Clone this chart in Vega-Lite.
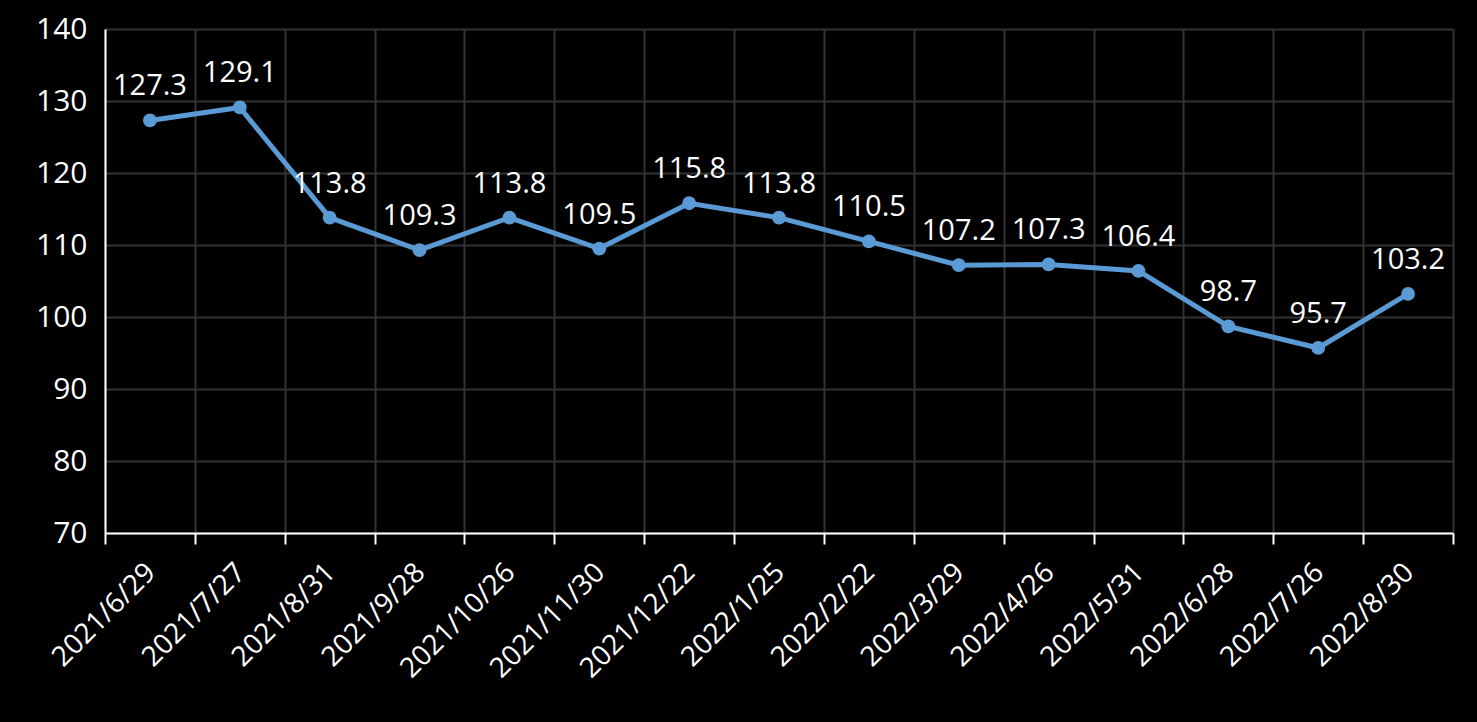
{
  "$schema": "https://vega.github.io/schema/vega-lite/v6.json",
  "width": 1348,
  "height": 504,
  "autosize": {"type": "none"},
  "padding": {"left": 105, "top": 29, "right": 24, "bottom": 189},
  "background": "#000000",
  "config": {
    "view": {"stroke": null},
    "font": "Open Sans"
  },
  "data": {
    "values": [
      {"date": "2021/6/29", "value": 127.3},
      {"date": "2021/7/27", "value": 129.1},
      {"date": "2021/8/31", "value": 113.8},
      {"date": "2021/9/28", "value": 109.3},
      {"date": "2021/10/26", "value": 113.8},
      {"date": "2021/11/30", "value": 109.5},
      {"date": "2021/12/22", "value": 115.8},
      {"date": "2022/1/25", "value": 113.8},
      {"date": "2022/2/22", "value": 110.5},
      {"date": "2022/3/29", "value": 107.2},
      {"date": "2022/4/26", "value": 107.3},
      {"date": "2022/5/31", "value": 106.4},
      {"date": "2022/6/28", "value": 98.7},
      {"date": "2022/7/26", "value": 95.7},
      {"date": "2022/8/30", "value": 103.2}
    ]
  },
  "encoding": {
    "x": {
      "field": "date",
      "type": "ordinal",
      "sort": null,
      "scale": {"paddingInner": 0, "paddingOuter": 0},
      "axis": {
        "title": null,
        "labelAngle": -45,
        "labelAlign": "right",
        "labelBaseline": "middle",
        "labelFontSize": 28,
        "labelColor": "#ffffff",
        "labelPadding": 24,
        "labelOffset": 1,
        "tickBand": "extent",
        "tickSize": 11,
        "tickWidth": 2,
        "tickColor": "#ffffff",
        "domainColor": "#ffffff",
        "domainWidth": 2,
        "grid": true,
        "gridColor": "#333333",
        "gridWidth": 2
      }
    },
    "y": {
      "field": "value",
      "type": "quantitative",
      "scale": {"domain": [70, 140], "nice": false, "zero": false},
      "axis": {
        "title": null,
        "values": [70, 80, 90, 100, 110, 120, 130, 140],
        "labelFontSize": 30,
        "labelColor": "#ffffff",
        "labelPadding": 18,
        "ticks": false,
        "domainColor": "#ffffff",
        "domainWidth": 2,
        "grid": true,
        "gridColor": "#333333",
        "gridWidth": 2
      }
    }
  },
  "layer": [
    {
      "mark": {"type": "line", "color": "#5B9BD5", "strokeWidth": 5}
    },
    {
      "mark": {"type": "point", "filled": true, "color": "#5B9BD5", "size": 190, "opacity": 1}
    },
    {
      "mark": {"type": "text", "color": "#ffffff", "fontSize": 29, "baseline": "bottom", "dy": -19},
      "encoding": {"text": {"field": "value", "type": "quantitative", "format": ".1f"}}
    }
  ]
}
